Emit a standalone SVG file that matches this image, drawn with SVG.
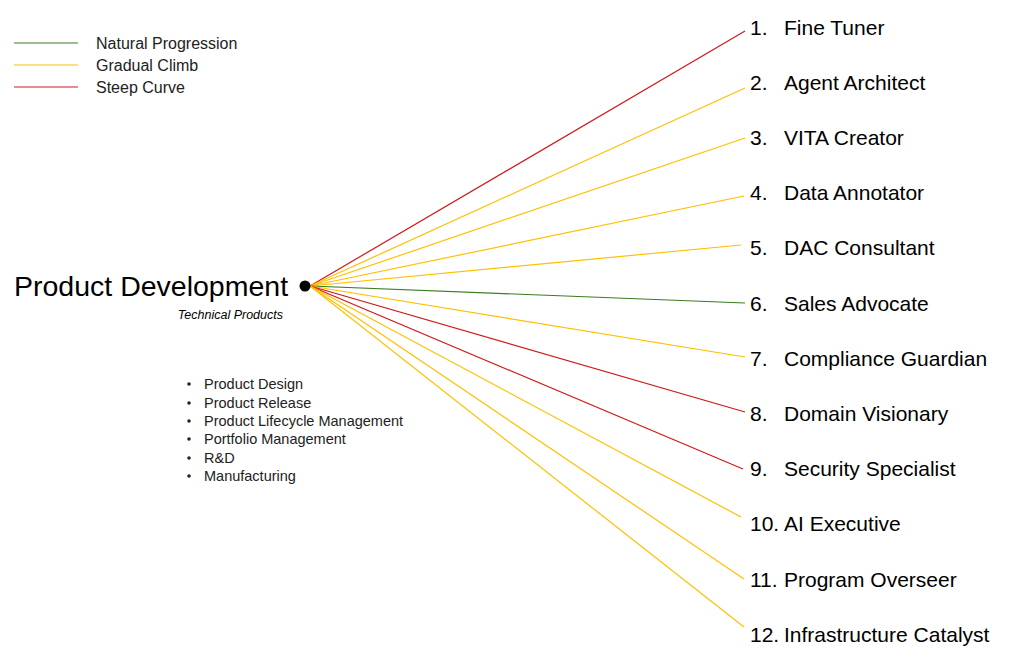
<svg xmlns="http://www.w3.org/2000/svg" width="1027" height="667" viewBox="0 0 1027 667">
  <style>
    text { font-family: "Liberation Sans", Arial, sans-serif; fill: #000; }
    .red { stroke: #D01818; stroke-width: 1.2; fill: none; }
    .yellow { stroke: #FFC000; stroke-width: 1.2; fill: none; }
    .green { stroke: #3A7D22; stroke-width: 1.2; fill: none; }
    .legend { font-size: 16px; fill: #222; }
    .role { font-size: 21px; }
    .bullet { font-size: 14.5px; fill: #222; }
  </style>
  <rect width="1027" height="667" fill="#fff"/>

  <!-- legend -->
  <g id="legend">
    <line class="green" x1="14" y1="43" x2="78" y2="43"/>
    <line class="yellow" x1="14" y1="65" x2="78" y2="65"/>
    <line class="red" x1="14" y1="87" x2="78" y2="87"/>
    <text class="legend" x="96" y="49">Natural Progression</text>
    <text class="legend" x="96" y="71">Gradual Climb</text>
    <text class="legend" x="96" y="93">Steep Curve</text>
  </g>

  <!-- connectors from the hub to each role -->
  <g id="connectors">
    <line class="red" x1="310" y1="286" x2="745" y2="31"/>
    <line class="yellow" x1="310" y1="286" x2="745" y2="88"/>
    <line class="yellow" x1="310" y1="286" x2="745" y2="138"/>
    <line class="yellow" x1="310" y1="286" x2="744" y2="196"/>
    <line class="yellow" x1="310" y1="286" x2="741" y2="245"/>
    <line class="green" x1="310" y1="286" x2="745" y2="303"/>
    <line class="yellow" x1="310" y1="286" x2="745" y2="357"/>
    <line class="red" x1="310" y1="286" x2="745" y2="412"/>
    <line class="red" x1="310" y1="286" x2="743" y2="469"/>
    <line class="yellow" x1="310" y1="286" x2="741" y2="517"/>
    <line class="yellow" x1="310" y1="286" x2="744" y2="579"/>
    <line class="yellow" x1="310" y1="286" x2="744" y2="627"/>
  </g>

  <!-- hub node -->
  <g id="hub">
    <text x="14" y="296" font-size="28.5">Product Development</text>
    <text x="283" y="319" font-size="12.5" font-style="italic" text-anchor="end" fill="#222">Technical Products</text>
    <circle cx="305" cy="286" r="5.5" fill="#000"/>
  </g>

  <!-- hub functions -->
  <g id="functions">
    <g fill="#222">
      <circle cx="189" cy="384" r="1.8"/>
      <circle cx="189" cy="403" r="1.8"/>
      <circle cx="189" cy="421" r="1.8"/>
      <circle cx="189" cy="439" r="1.8"/>
      <circle cx="189" cy="458" r="1.8"/>
      <circle cx="189" cy="476" r="1.8"/>
    </g>
    <text class="bullet" x="204" y="389">Product Design</text>
    <text class="bullet" x="204" y="408">Product Release</text>
    <text class="bullet" x="204" y="426">Product Lifecycle Management</text>
    <text class="bullet" x="204" y="444">Portfolio Management</text>
    <text class="bullet" x="204" y="463">R&amp;D</text>
    <text class="bullet" x="204" y="481">Manufacturing</text>
  </g>

  <!-- role nodes -->
  <g id="role-1"><text class="role" x="750" y="35">1.</text><text class="role" x="784" y="35">Fine Tuner</text></g>
  <g id="role-2"><text class="role" x="750" y="90">2.</text><text class="role" x="784" y="90">Agent Architect</text></g>
  <g id="role-3"><text class="role" x="750" y="145">3.</text><text class="role" x="784" y="145">VITA Creator</text></g>
  <g id="role-4"><text class="role" x="750" y="200">4.</text><text class="role" x="784" y="200">Data Annotator</text></g>
  <g id="role-5"><text class="role" x="750" y="255">5.</text><text class="role" x="784" y="255">DAC Consultant</text></g>
  <g id="role-6"><text class="role" x="750" y="311">6.</text><text class="role" x="784" y="311">Sales Advocate</text></g>
  <g id="role-7"><text class="role" x="750" y="366">7.</text><text class="role" x="784" y="366">Compliance Guardian</text></g>
  <g id="role-8"><text class="role" x="750" y="421">8.</text><text class="role" x="784" y="421">Domain Visionary</text></g>
  <g id="role-9"><text class="role" x="750" y="476">9.</text><text class="role" x="784" y="476">Security Specialist</text></g>
  <g id="role-10"><text class="role" x="750" y="531">10.</text><text class="role" x="784" y="531">AI Executive</text></g>
  <g id="role-11"><text class="role" x="750" y="587">11.</text><text class="role" x="784" y="587">Program Overseer</text></g>
  <g id="role-12"><text class="role" x="750" y="642">12.</text><text class="role" x="784" y="642">Infrastructure Catalyst</text></g>
</svg>
